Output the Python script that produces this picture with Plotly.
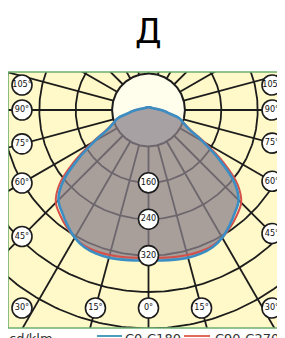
import numpy as np
import plotly.graph_objects as go

# ---------------- data ----------------
angles = list(range(0, 181, 5))  # gamma angle, degrees from nadir
c0_c180 = [330, 332, 334, 336, 336, 333, 324, 310, 295, 280, 246, 190, 136, 97, 81, 70, 48, 37, 28,
           21, 16, 13, 11, 10, 9, 8, 8, 7, 7, 7, 6, 6, 6, 6, 6, 6, 6]
c90_c270 = [324, 326, 328, 330, 331, 330, 324, 314, 302, 288, 256, 201, 143, 100, 82, 70, 48, 37, 28,
            21, 16, 13, 11, 10, 9, 8, 8, 7, 7, 7, 6, 6, 6, 6, 6, 6, 6]
ring_values = [80, 160, 240, 320, 400, 480]
ring_label_values = [160, 240, 320]
ray_angles = list(range(0, 360, 15))
side_label_angles = [105, 90, 75, 60, 45, 30]
bottom_label_angles = [15, 0, 15]
bottom_label_signs = [-1, 0, 1]
series_names = ["C0-C180", "C90-C270"]
unit_label = "cd/klm"
title_text = "Д"

# ---------------- layout geometry (pixels in the window) ----------------
OFF = 8                     # default page body margin
W, H = 285 - OFF, 338 - OFF  # figure size so that it ends at the window edge
L, R, T, B = 8, 284, 72, 328
CX, CY = 148.5, 110
S = 0.455  # px per cd

xr = [(L - CX) / S, (R - CX) / S]
yr = [-(B - CY) / S, (CY - T) / S]


def pol(r, deg):
    t = np.radians(deg)
    return r * np.sin(t), -r * np.cos(t)


def mirror(vals):
    th = [-a for a in reversed(angles)] + angles[1:]
    rr = list(reversed(vals)) + vals[1:]
    return pol(np.array(rr, float), np.array(th, float))


fig = go.Figure()

# rays
rx, ry = [], []
for a in ray_angles:
    x0, y0 = pol(ring_values[0], a)
    x1, y1 = pol(900, a)
    rx += [x0, x1, None]
    ry += [y0, y1, None]
fig.add_trace(go.Scatter(x=rx, y=ry, mode="lines", line=dict(color="#1c1c1c", width=1.8),
                         hoverinfo="skip", showlegend=False))

# rings
th = np.linspace(0, 360, 361)
cx_, cy_ = [], []
for rv in ring_values[1:]:
    x, y = pol(rv, th)
    cx_ += list(x) + [None]
    cy_ += list(y) + [None]
fig.add_trace(go.Scatter(x=cx_, y=cy_, mode="lines", line=dict(color="#1c1c1c", width=1.8),
                         hoverinfo="skip", showlegend=False))

# inner white disc
x, y = pol(ring_values[0], th)
fig.add_trace(go.Scatter(x=x, y=y, mode="lines", fill="toself", fillcolor="#fffdec",
                         line=dict(color="#1c1c1c", width=2), hoverinfo="skip", showlegend=False))

# gray fill
fx, fy = mirror(c0_c180)
fig.add_trace(go.Scatter(x=fx, y=fy, mode="lines", fill="toself", fillcolor="rgba(138,128,138,0.74)",
                         line=dict(width=0, shape="spline"), hoverinfo="skip", showlegend=False))

# curves
x2, y2 = mirror(c90_c270)
fig.add_trace(go.Scatter(x=x2, y=y2, mode="lines", name=series_names[1],
                         line=dict(color="#d4504a", width=2, shape="spline"), showlegend=False))
fig.add_trace(go.Scatter(x=fx, y=fy, mode="lines", name=series_names[0],
                         line=dict(color="#3b8ec4", width=2.6, shape="spline"), showlegend=False))

lab_marker = dict(size=20, color="white", line=dict(color="#1c1c1c", width=1.6))
lab_font = dict(family="DejaVu Sans Condensed, DejaVu Sans", size=9, color="#111")

# ring labels
rlx, rly = pol(np.array(ring_label_values, float), 0)
fig.add_trace(go.Scatter(x=rlx, y=rly, mode="markers+text",
                         text=[str(v) for v in ring_label_values], textposition="middle center",
                         marker=lab_marker, textfont=lab_font, cliponaxis=False,
                         hoverinfo="skip", showlegend=False))

# angle labels (placed where each ray meets the frame, inset)
ex_left = (CX - 22) / S
ex_right = (272 - CX) / S
ytop, ybot = (CY - 85) / S, -(308 - CY) / S
lx, ly, lt = [], [], []
for sgn, ex in ((-1, ex_left), (1, ex_right)):
    for a in side_label_angles:
        yy = -ex * np.cos(np.radians(a)) / np.sin(np.radians(a))
        yy = min(max(yy, ybot), ytop)
        lx.append(sgn * ex)
        ly.append(yy)
        lt.append(f"{a}°")
for a, sgn in zip(bottom_label_angles, bottom_label_signs):
    lx.append(sgn * (-ybot) * np.tan(np.radians(a)))
    ly.append(ybot)
    lt.append(f"{a}°")
fig.add_trace(go.Scatter(x=lx, y=ly, mode="markers+text", text=lt, textposition="middle center",
                         marker=lab_marker, textfont=lab_font, cliponaxis=False,
                         hoverinfo="skip", showlegend=False))


# ---------------- legend (manual) ----------------
def px2paper_x(p):
    return (p - L) / (R - L)


def px2paper_y(p):
    return (B - p) / (B - T)


shapes = [
    dict(type="rect", xref="paper", yref="paper", x0=0, x1=1, y0=0, y1=1,
         line=dict(color="#6dae6d", width=1.6), layer="above"),
    dict(type="line", xref="paper", yref="paper", x0=px2paper_x(97), x1=px2paper_x(122),
         y0=px2paper_y(336), y1=px2paper_y(336), line=dict(color="#4a9fbf", width=2)),
    dict(type="line", xref="paper", yref="paper", x0=px2paper_x(184), x1=px2paper_x(210),
         y0=px2paper_y(336), y1=px2paper_y(336), line=dict(color="#e06a5a", width=2)),
]
lf = dict(family="DejaVu Sans", size=13, color="#333")
annotations = [
    dict(text=unit_label, xref="paper", yref="paper", x=px2paper_x(7), y=px2paper_y(329),
         xanchor="left", yanchor="top", showarrow=False, font=lf),
    dict(text=series_names[0], xref="paper", yref="paper", x=px2paper_x(123), y=px2paper_y(329),
         xanchor="left", yanchor="top", showarrow=False, font=lf),
    dict(text=series_names[1], xref="paper", yref="paper", x=px2paper_x(213), y=px2paper_y(329),
         xanchor="left", yanchor="top", showarrow=False, font=lf),
    dict(text=title_text, xref="paper", yref="paper", x=px2paper_x(148.5), y=px2paper_y(31),
         xanchor="center", yanchor="middle", showarrow=False,
         font=dict(family="DejaVu Sans", size=34, color="#000")),
]

fig.update_layout(
    width=W, height=H,
    margin=dict(l=L - OFF, r=(W + OFF) - R, t=T - OFF, b=(H + OFF) - B, pad=0),
    paper_bgcolor="white", plot_bgcolor="#fff8c8",
    xaxis=dict(range=xr, visible=False, fixedrange=True),
    yaxis=dict(range=yr, visible=False, fixedrange=True),
    shapes=shapes, annotations=annotations, showlegend=False,
)

fig.write_html("out.html")
